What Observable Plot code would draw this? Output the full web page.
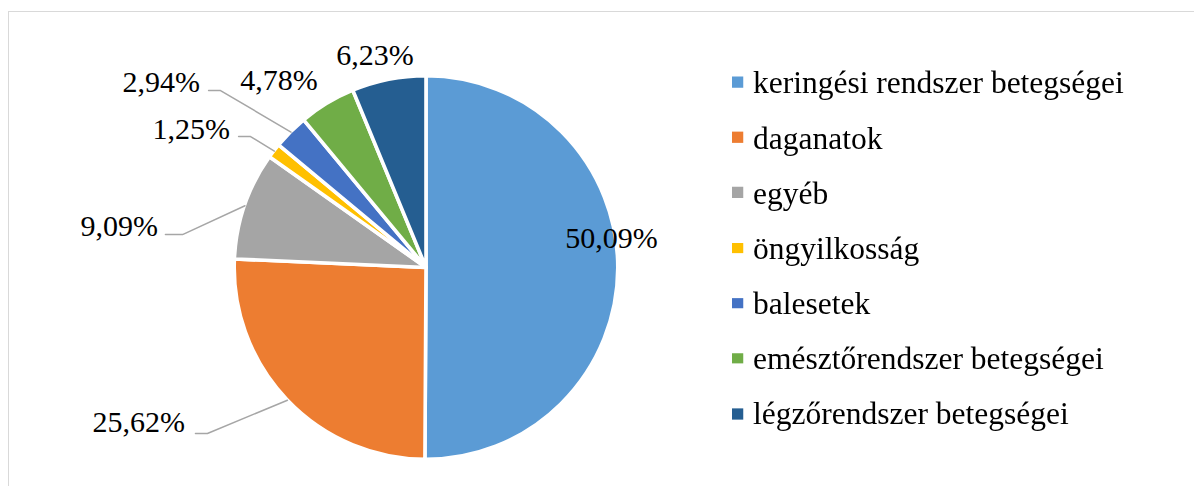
<!DOCTYPE html>
<html>
<head>
<meta charset="utf-8">
<script src="https://cdn.jsdelivr.net/npm/d3@7"></script>
<script src="https://cdn.jsdelivr.net/npm/@observablehq/plot@0.6"></script>
<style>
  html, body { margin: 0; padding: 0; background: #fff; overflow: hidden; }
  #wrap { position: relative; width: 1194px; height: 486px; overflow: hidden; }
  #frame { position: absolute; left: 8px; top: 11px; width: 1300px; height: 600px; border: 1.5px solid #d9d9d9; box-sizing: border-box; }
  #chart { position: absolute; left: 0; top: 0; }
  #legend { position: absolute; left: 732px; top: 0; transform-origin: 0 0; }
  .row { position: absolute; left: 0; white-space: nowrap; font-size: 28px; color: #000; }
  .sw { position: absolute; left: 0; }
  .lt { position: absolute; top: 0; }
</style>
</head>
<body>
<div id="wrap">
  <div id="frame"></div>
  <div id="chart"></div>
  <div id="legend"></div>
</div>
<script>
// ---- data ----
const categories = [
  "keringési rendszer betegségei",
  "daganatok",
  "egyéb",
  "öngyilkosság",
  "balesetek",
  "emésztőrendszer betegségei",
  "légzőrendszer betegségei"
];
const values = [50.09, 25.62, 9.09, 1.25, 2.94, 4.78, 6.23];
const colors = ["#5B9BD5", "#ED7D31", "#A5A5A5", "#FFC000", "#4472C4", "#70AD47", "#255E91"];

// ---- label layout (in pie-radius units, y up) ----
const labelX = [0.976, -1.268, -1.411, -1.032, -1.189, -0.774, -0.268];
const labelY = [0.153, -0.816, 0.218, 0.729, 0.976, 0.987, 1.118];
const labelAnchor = ["middle", "end", "end", "end", "end", "middle", "middle"];
// leader lines: [startX, elbowX, y] or null
const leader = [null, [-1.216, -1.153, -0.871], [-1.374, -1.284, 0.176], [-0.989, -0.926, 0.692], [-1.147, -1.084, 0.934], null, null];

const SERIF = '"Liberation Serif", "Times New Roman", Times, serif';
// the serif face is only picked at <= 28px here, so render at 28px and scale
const BASE = 28, LABEL_SIZE = 30, LEGEND_SIZE = 31.5;

// ---- geometry ----
const W = 1194, H = 486, CX = 426, CY = 267.5, R = 190;
const data = categories.map((c, i) => ({category: c, value: values[i], color: colors[i], i}));
const arcs = d3.pie().sort(null).value(d => d.value)(data);
arcs.forEach(a => { a.mid = (a.startAngle + a.endAngle) / 2; });
const fmt = v => v.toFixed(2).replace(".", ",") + "%";

const labels = data.map((d, i) => ({text: fmt(d.value), x: labelX[i], y: labelY[i], anchor: labelAnchor[i]}));
const lines = [];
arcs.forEach((a, i) => {
  const L = leader[i];
  if (!L) return;
  lines.push({k: i, x: L[0], y: L[2]});
  lines.push({k: i, x: L[1], y: L[2]});
  lines.push({k: i, x: Math.sin(a.mid) * 1.01, y: Math.cos(a.mid) * 1.01});
});

const pieMark = (index, scales) => {
  const x0 = scales.x(0), y0 = scales.y(0);
  const rr = scales.x(1) - scales.x(0) + 1.8;
  const arc = d3.arc().innerRadius(0).outerRadius(rr);
  const g = d3.create("svg:g").attr("transform", `translate(${x0},${y0})`);
  g.selectAll("path").data(arcs).join("path")
    .attr("d", arc)
    .attr("fill", a => a.data.color)
    .attr("stroke", "#fff")
    .attr("stroke-width", 3.6)
    .attr("stroke-linejoin", "round");
  return g.node();
};

const k = LABEL_SIZE / BASE;
const labelMark = (index, scales) => {
  const g = d3.create("svg:g")
    .attr("font-family", SERIF)
    .attr("font-size", BASE)
    .attr("fill", "#000");
  g.selectAll("text").data(labels).join("text")
    .attr("transform", d => `translate(${scales.x(d.x)},${scales.y(d.y)}) scale(${k})`)
    .attr("text-anchor", d => d.anchor)
    .attr("dy", "0.32em")
    .text(d => d.text);
  return g.node();
};

const plot = Plot.plot({
  width: W, height: H,
  margin: 0,
  x: {domain: [-CX / R, (W - CX) / R], axis: null},
  y: {domain: [-(H - CY) / R, CY / R], axis: null},
  style: {background: "transparent", overflow: "visible", fontFamily: SERIF},
  marks: [
    pieMark,
    Plot.line(lines, {x: "x", y: "y", z: "k", stroke: "#a6a6a6", strokeWidth: 1.5}),
    labelMark
  ]
});
document.getElementById("chart").appendChild(plot);

// ---- legend ----
const s = LEGEND_SIZE / BASE;
const legend = document.getElementById("legend");
legend.style.transform = `scale(${s})`;
const rowH = 55.2 / s;
categories.forEach((c, i) => {
  const row = document.createElement("div");
  row.className = "row";
  row.style.fontFamily = SERIF;
  row.style.top = ((82.5 + 55.2 * i - 27.6) / s) + "px";
  row.style.height = rowH + "px";
  row.style.lineHeight = rowH + "px";
  const sw = document.createElement("div");
  sw.className = "sw";
  sw.style.background = colors[i];
  sw.style.width = (11 / s) + "px";
  sw.style.height = (11 / s) + "px";
  sw.style.top = (22 / s) + "px";
  const t = document.createElement("span");
  t.className = "lt";
  t.style.left = (21 / s) + "px";
  t.style.fontFamily = SERIF;
  t.textContent = c;
  row.appendChild(sw);
  row.appendChild(t);
  legend.appendChild(row);
});
</script>
</body>
</html>
